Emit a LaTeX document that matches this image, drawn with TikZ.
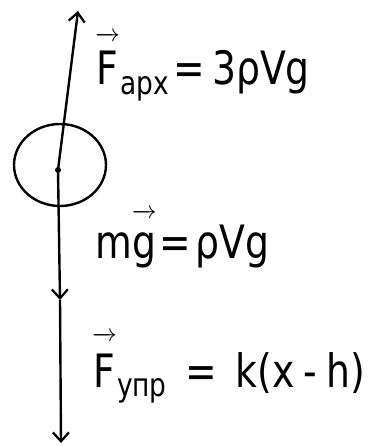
\documentclass[tikz,border=0pt]{standalone}
\usepackage{fontspec}
\usepackage{amsmath}
\setmainfont{DejaVu Sans}[FakeStretch=0.82]
\usetikzlibrary{arrows.meta}
\tikzset{
  force/.style={line width=2.4pt, -{Straight Barb[length=9pt,width=16pt,line width=2.2pt]}},
  lbl/.style={anchor=base west, inner sep=0pt, font=\fontsize{46}{50}\selectfont},
}
\begin{document}
\begin{tikzpicture}[x=1pt,y=-1pt]
\fill[white] (0,0) rectangle (384,446);
\useasboundingbox (0,0) rectangle (384,446);
\coordinate (c) at (58,170);
\coordinate (top) at (78,11);
\coordinate (mid) at (60,300);
\coordinate (bot) at (61,443);
\draw[line width=2.4pt] (60,165) ellipse (46 and 41);
\draw[force] (c) -- (top);
\draw[force] (c) -- (mid);
\draw[force] (mid) -- (bot);
\fill (c) circle (3);
\node[lbl] (farx) at (95,85) {$\overrightarrow{\rule{0pt}{0.95em}\text{F}}_{\text{арх}}$\hspace{0.1em}=\hspace{0.15em}3ρVg};
\node[lbl] (mg) at (95,258) {m$\overrightarrow{\rule{0pt}{0.85em}\text{g}}$\hspace{0.05em}=\hspace{0.1em}ρVg};
\node[lbl] (fupr) at (92,387) {$\overrightarrow{\rule{0pt}{1.0em}\text{F}}_{\text{упр}}$\hspace{0.4em}=\hspace{0.4em}k(x\hspace{0.2em}-\hspace{0.2em}h)};
\end{tikzpicture}
\end{document}
